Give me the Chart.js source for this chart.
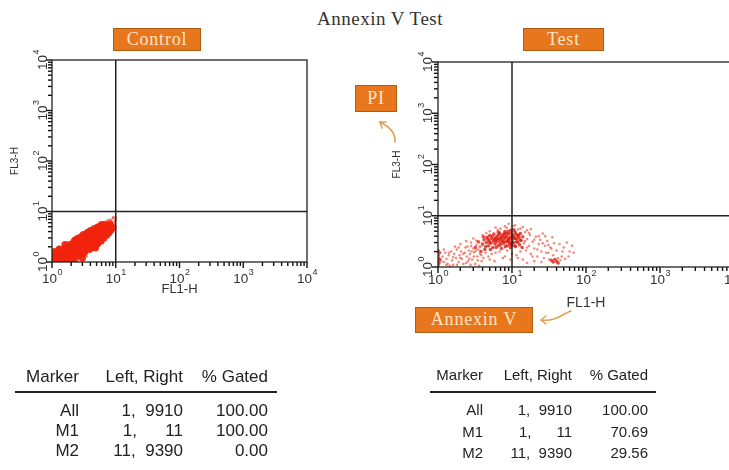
<!DOCTYPE html>
<html>
<head>
<meta charset="utf-8">
<script src="https://cdn.jsdelivr.net/npm/chart.js@4"></script>
<style>
  html, body { margin: 0; padding: 0; background: #fff; }
  #page { position: relative; width: 729px; height: 470px; overflow: hidden; background: #fff; }
  canvas { position: absolute; }
  .title { position: absolute; left: 0; width: 760px; top: 8px; text-align: center;
           font: 19px "Liberation Serif", "Times New Roman", serif; letter-spacing: 0.5px; color: #333; }
  .tag { position: absolute; box-sizing: border-box; background: #e8761c; border: 1.5px solid #b25c12;
         color: #fde6c4; font: 18px "Liberation Serif", "Times New Roman", serif; letter-spacing: 0.8px;
         text-align: center; }
  .cell { position: absolute; width: 140px; height: 20px; line-height: 20px; text-align: right;
          white-space: pre; color: #222; font-family: "Liberation Sans", Arial, sans-serif; }
  .rule { position: absolute; height: 2px; background: #222; }
  .arrows { position: absolute; left: 0; top: 0; pointer-events: none; }
</style>
</head>
<body>
<div id="page">
  <div class="title">Annexin V Test</div>
  <canvas id="controlPlot" width="330" height="270" style="left:0px; top:40px;"></canvas>
  <canvas id="testPlot" width="420" height="280" style="left:340px; top:40px;"></canvas>

  <div class="tag" style="left:113px; top:28px; width:88px; height:23px; line-height:20px;">Control</div>
  <div class="tag" style="left:523px; top:28px; width:81px; height:23px; line-height:20px;">Test</div>
  <div class="tag" style="left:355px; top:85px; width:42px; height:27px; line-height:24px;">PI</div>
  <div class="tag" style="left:415px; top:307px; width:118px; height:26px; line-height:23px;">Annexin V</div>

  <svg class="arrows" width="729" height="470">
    <g fill="none" stroke="#e0a050" stroke-width="1.6" stroke-linecap="round">
      <path d="M395,142 C396,132 388,126 380,122" />
      <path d="M380,122 L386,122 M380,122 L382,128" />
      <path d="M571,311 C562,314 556,322 541,320" />
      <path d="M541,320 L546,316 M541,320 L546,324" />
    </g>
  </svg>
</div>

<script>
// axis decades and tick labels (exponents of 10)
const decades = [1, 10, 100, 1000, 10000];
const decadeLabels = ["0", "1", "2", "3", "4"];
// minor tick positions inside one decade
const minorSteps = [2, 3, 4, 5, 6, 7, 8, 9];

// gate position (FL1-H, FL3-H)
const gateX = 10;
const gateY = 10;

// control sample, dense core of the cell population [FL1-H, FL3-H]
const controlCore = [
  [1.0,1.0],[1.05,1.15],[1.1,1.02],[1.0,1.3],[1.2,1.1],[1.15,1.35],[1.3,1.05],[1.3,1.3],
  [1.25,1.55],[1.4,1.2],[1.45,1.45],[1.5,1.05],[1.55,1.7],[1.6,1.3],[1.7,1.5],[1.75,1.15],
  [1.8,1.85],[1.9,1.35],[1.95,1.6],[2.0,2.0],[2.1,1.25],[2.15,1.75],[2.25,1.45],[2.3,2.1],
  [2.4,1.65],[2.5,1.3],[2.55,1.95],[2.6,2.4],[2.7,1.55],[2.8,2.2],[2.9,1.8],[2.95,2.6],
  [3.05,1.45],[3.1,2.05],[3.2,2.8],[3.3,1.75],[3.4,2.35],[3.5,3.0],[3.6,1.95],[3.7,2.6],
  [3.8,2.2],[3.9,3.2],[4.0,1.9],[4.1,2.85],[4.25,2.4],[4.35,3.4],[4.5,2.2],[4.6,3.0],
  [4.75,2.6],[4.85,3.7],[5.0,2.45],[5.1,3.2],[5.25,4.0],[5.4,2.8],[5.55,3.5],[5.7,4.3],
  [5.85,3.0],[6.0,3.8],[6.2,3.3],[6.35,4.6],[6.5,4.0],[6.7,3.5],[6.9,4.9],[7.1,4.3],
  [7.4,5.2],[7.7,4.6],[8.0,5.6],[8.4,5.0],[5.8,5.2],[4.4,3.9],[3.4,3.5],[2.3,2.7],
  [1.6,2.2],[1.3,1.8],[1.1,1.6],[1.0,1.5],[1.0,1.1],[1.2,1.0],[1.45,1.0],[1.85,1.05],
  [2.2,1.1],[4.8,1.9],[6.6,5.5],[3.0,1.2],
  [1.1,1.2],[1.35,1.6],[1.6,1.9],[1.9,2.2],[2.2,2.5],[2.5,2.9],[2.8,3.1],[3.1,3.5],
  [3.6,3.8],[4.0,4.2],[4.6,4.6],[5.2,4.9],[6.0,5.5],[2.0,1.2],[2.6,1.4],[3.3,1.6],
  [3.9,1.8],[4.5,2.0],[5.2,2.3],[5.9,2.6],[6.5,3.0],[7.2,3.4],[7.8,3.8],[8.4,4.3],
  [9.0,4.8],[7.5,4.0],[6.0,4.3],[5.0,3.7],[4.2,3.1],[3.4,2.6],[2.6,2.1],[2.0,1.7],[1.5,1.4]
];

// control sample, sparse events at the edge of the population
const controlSparse = [
  [8.8,6.1],[9.3,5.7],[9.8,6.6],[9.9,7.2],[7.6,6.0],[9.0,7.4],[8.3,4.1],[8.5,6.8],
  [9.2,7.8],[7.2,6.6],[10.0,7.6],[6.0,5.8],[9.6,6.2],[3.5,1.3],[4.0,1.6],[5.5,2.2],
  [2.5,1.05],[1.3,2.0],[7.0,3.9],[6.2,2.8],[8.9,5.2],[7.9,6.9]
];

// test sample, dense events around the gate [FL1-H, FL3-H]
const testCore = [
  [1.0,1.1],[1.0,1.3],[1.02,1.5],[1.0,1.7],[1.05,1.9],[1.0,2.1],[1.03,1.2],[1.0,1.0],[1.06,1.4],
  [4.0,2.8],[4.2,3.4],[4.3,2.2],[4.5,3.0],[4.6,3.8],[4.8,2.6],[4.9,3.3],[5.0,4.1],[5.2,2.9],
  [5.3,3.6],[5.5,2.4],[5.6,3.2],[5.7,4.4],[5.9,2.8],[6.0,3.7],[6.2,3.1],[6.3,4.0],[6.5,2.6],
  [6.6,3.4],[6.8,4.6],[6.9,3.0],[7.1,3.8],[7.2,2.3],[7.4,3.3],[7.5,4.2],[7.7,2.9],[7.9,3.6],
  [8.0,4.9],[8.2,3.1],[8.4,4.0],[8.6,2.6],[8.8,3.5],[9.0,4.4],[9.2,3.0],[9.4,3.8],[9.6,5.2],
  [9.8,2.7],[10.0,3.4],[10.3,4.2],[10.5,3.0],[10.7,3.7],[11.0,4.8],[11.2,2.5],[11.5,3.5],
  [11.8,4.1],[12.0,3.0],[12.4,3.8],[12.7,2.7],[13.0,4.5],[13.3,3.3],[13.7,2.4],[14.0,3.9],
  [34,1.35],[36,1.25],[38,1.4],[40,1.3],[42,1.2],
  [3.2,2.4],[3.5,3.1],[3.8,2.0],[4.1,3.9],[4.4,2.5],[4.7,3.5],[5.1,2.2],[5.4,4.0],[5.8,3.5],
  [6.1,2.4],[6.4,3.6],[6.7,4.3],[7.0,2.7],[7.3,3.9],[7.6,3.1],[8.1,2.5],[8.3,4.5],[8.7,3.2],
  [9.1,3.6],[9.5,2.4],[9.7,4.6],[10.1,3.0],[10.4,3.9],[10.8,2.6],[11.3,4.4],[11.6,3.1],
  [12.2,4.2],[12.8,3.4],[5.0,3.0],[6.0,3.3],[7.0,3.5],[8.0,3.8],[9.0,3.3],[10.0,4.0],
  [11.0,3.6],[6.5,4.8],[8.8,4.9],[10.6,5.3],[7.8,4.4],[9.3,2.8]
];

// test sample, scattered events
const testOuter = [
  [1.15,1.6],[1.2,1.25],[1.25,1.9],[1.3,1.45],[1.35,1.15],[1.4,1.7],[1.5,2.0],[1.55,1.35],
  [1.6,1.1],[1.65,1.8],[1.75,1.5],[1.8,2.2],[1.9,1.25],[1.95,1.7],[2.05,2.0],[2.1,1.45],
  [2.2,1.15],[2.3,1.9],[2.35,2.4],[2.45,1.6],[2.55,1.3],[2.6,2.1],[2.7,1.8],[2.8,2.6],
  [2.9,1.4],[3.0,2.3],[3.1,1.95],[3.2,1.15],[3.3,2.7],[3.4,1.6],[3.5,2.2],[3.6,3.0],
  [3.7,1.8],[3.8,2.5],[3.9,1.3],[2.4,3.2],[2.0,2.8],[1.7,2.5],[3.0,3.6],[1.45,1.05],
  [2.75,1.1],[3.6,1.05],[6.4,5.3],[8.5,5.8],[10.2,6.3],[9.0,7.0],[7.0,5.6],[12.0,5.4],
  [5.0,5.0],[4.5,4.6],[14.5,2.9],[15,4.8],[15.5,2.1],[16,3.5],[17,2.6],[17.5,4.2],
  [18,1.8],[19,3.1],[20,2.3],[21,3.9],[22,1.6],[23,2.8],[24,3.4],[25,2.0],[26,4.5],
  [27,1.5],[28,2.6],[30,3.2],[31,1.9],[32,1.4],[33,2.4],[35,3.8],[36,1.7],[38,1.3],
  [40,2.1],[42,1.5],[44,2.8],[45,1.35],[47,1.6],[50,2.4],[52,1.45],[55,3.0],[60,2.0],
  [65,2.6],[18,5.5],[14,6.0],[16,1.2],[20,1.3],[25,1.25],[12,1.5],[10,1.8],[8,1.6],
  [6,1.9],[5,1.4],[13,2.0],
  [1.1,1.3],[1.2,2.2],[1.3,1.1],[1.4,1.9],[1.6,1.55],[1.8,1.1],[1.9,2.4],[2.0,1.5],
  [2.2,1.8],[2.4,1.2],[2.5,2.5],[2.65,1.45],[2.85,2.0],[3.05,1.6],[3.25,2.1],[3.45,1.35],
  [3.65,2.5],[3.85,1.7],[4.1,1.5],[4.4,1.9],[4.8,1.6],[5.3,1.8],[5.8,1.3],[6.8,2.0],
  [7.5,1.5],[8.6,2.1],[9.5,1.4],[11.5,1.7],[14,1.4],[16,2.4],[19,1.6],[22,2.2],[26,2.9],
  [29,1.9],[34,2.3],[37,2.9],[48,2.0],[58,1.6],[68,1.9],[15,3.2],[17,4.6],[20,3.4],
  [23,4.0],[11,6.5],[8,6.2],[6,5.9],[13,5.6],[16,5.2],[4.0,4.2],[3.3,3.3],[2.8,3.0],
  [28,4.0],[31,2.7]
];

// marker tables
const tableHeader = ["Marker", "Left, Right", "% Gated"];
const markers = ["All", "M1", "M2"];
const markerRanges = ["1,  9910", "1,      11", "11,  9390"];
const controlGated = ["100.00", "100.00", "0.00"];
const testGated = ["100.00", "70.69", "29.56"];

const labelFont = '"Liberation Sans", Arial, sans-serif';

// draws "10" with a raised exponent, centred on (cx, cy)
function drawPower(ctx, cx, cy, exp, rot) {
    ctx.save();
    ctx.translate(cx, cy);
    ctx.rotate(rot);
    ctx.textBaseline = "middle";
    ctx.textAlign = "left";
    ctx.font = "13.5px " + labelFont;
    const bw = ctx.measureText("10").width;
    ctx.font = "9px " + labelFont;
    const ew = ctx.measureText(exp).width;
    const x0 = -(bw + ew) / 2;
    ctx.font = "13.5px " + labelFont;
    ctx.fillText("10", x0, 1);
    ctx.font = "9px " + labelFont;
    ctx.fillText(exp, x0 + bw + 0.5, -5);
    ctx.restore();
}

// frame, tick marks, quadrant gate, decade labels and axis titles
const flowDecor = {
    id: "flowDecor",
    afterDraw(chart, args, opts) {
        const { ctx, chartArea: a, scales: { x, y } } = chart;
        ctx.save();

        // log tick marks: a long one at each decade, short ones between
        ctx.fillStyle = "#111";
        decades.forEach((d, i) => {
            const steps = i < decades.length - 1 ? [1].concat(minorSteps) : [1];
            steps.forEach(s => {
                const len = s === 1 ? 6 : 4;
                const px = x.getPixelForValue(d * s);
                const py = y.getPixelForValue(d * s);
                ctx.fillRect(px - 0.7, a.bottom, 1.4, len);
                ctx.fillRect(a.left - len, py - 0.7, len, 1.4);
            });
        });

        ctx.strokeStyle = "#222";
        ctx.lineWidth = 1.3;
        ctx.strokeRect(a.left, a.top, a.right - a.left, a.bottom - a.top);

        ctx.lineWidth = 1.5;
        const gx = x.getPixelForValue(gateX);
        const gy = y.getPixelForValue(gateY);
        ctx.beginPath();
        ctx.moveTo(gx, a.top);
        ctx.lineTo(gx, a.bottom);
        ctx.moveTo(a.left, gy);
        ctx.lineTo(a.right, gy);
        ctx.stroke();

        ctx.fillStyle = "#333";
        decades.forEach((d, i) => {
            drawPower(ctx, x.getPixelForValue(d), a.bottom + opts.xLabelGap, decadeLabels[i], 0);
            drawPower(ctx, a.left - opts.yLabelGap, y.getPixelForValue(d), decadeLabels[i], -Math.PI / 2);
        });

        ctx.textAlign = "center";
        ctx.textBaseline = "middle";
        ctx.font = opts.xTitleSize + "px " + labelFont;
        ctx.fillText("FL1-H", (a.left + a.right) / 2, a.bottom + opts.xTitleGap);
        ctx.save();
        ctx.translate(a.left - opts.yTitleGap, (a.top + a.bottom) / 2);
        ctx.rotate(-Math.PI / 2);
        ctx.font = opts.yTitleSize + "px " + labelFont;
        ctx.fillText("FL3-H", 0, 0);
        ctx.restore();
        ctx.restore();
    }
};

function logAxis(isX) {
    return {
        type: "logarithmic",
        min: 1,
        max: 10000,
        afterFit: s => { if (isX) s.height = 0; else s.width = 0; },
        ticks: { display: false },
        grid: { display: false },
        border: { display: false }
    };
}

function toPoints(list) {
    return list.map(p => ({ x: p[0], y: p[1] }));
}

function renderFlowPlot(canvasId, datasets, padding, decor) {
    new Chart(document.getElementById(canvasId), {
        type: "scatter",
        data: { datasets: datasets },
        options: {
            responsive: false,
            animation: false,
            devicePixelRatio: 1,
            layout: { padding: padding },
            scales: { x: logAxis(true), y: logAxis(false) },
            plugins: {
                legend: { display: false },
                tooltip: { enabled: false },
                flowDecor: decor
            }
        },
        plugins: [flowDecor]
    });
}

renderFlowPlot("controlPlot", [
    { data: toPoints(controlCore), backgroundColor: "rgba(240,36,12,0.95)", pointRadius: 3.6, pointBorderWidth: 0 },
    { data: toPoints(controlSparse), backgroundColor: "rgba(240,70,50,0.8)", pointRadius: 1.2, pointBorderWidth: 0 }
], { left: 52, right: 23, top: 20, bottom: 48 },
   { xLabelGap: 16, yLabelGap: 10, xTitleGap: 27, yTitleGap: 37, xTitleSize: 13, yTitleSize: 10 });

renderFlowPlot("testPlot", [
    { data: toPoints(testOuter), backgroundColor: "rgba(238,100,80,0.75)", pointRadius: 1.3, pointBorderWidth: 0 },
    { data: toPoints(testCore), backgroundColor: "rgba(222,30,18,0.8)", pointRadius: 1.8, pointBorderWidth: 0 }
], { left: 98, right: 26, top: 22, bottom: 53 },
   { xLabelGap: 12, yLabelGap: 11, xTitleGap: 36, yTitleGap: 41, xTitleSize: 14, yTitleSize: 10 });

// marker tables below the plots
function buildTable(cfg) {
    const page = document.getElementById("page");
    const rows = [tableHeader].concat(markers.map((m, i) => [m, markerRanges[i], cfg.gated[i]]));
    rows.forEach((row, r) => {
        row.forEach((txt, c) => {
            const d = document.createElement("div");
            d.className = "cell";
            d.textContent = txt;
            d.style.fontSize = cfg.size + "px";
            d.style.left = (cfg.rights[c] - 140) + "px";
            d.style.top = (cfg.rowY[r] - 10) + "px";
            page.appendChild(d);
        });
    });
    const rule = document.createElement("div");
    rule.className = "rule";
    rule.style.left = cfg.rule[0] + "px";
    rule.style.width = (cfg.rule[1] - cfg.rule[0]) + "px";
    rule.style.top = (cfg.ruleY - 1) + "px";
    page.appendChild(rule);
}

buildTable({ gated: controlGated, size: 17, rights: [79, 183, 268], rowY: [377, 411, 431, 451], rule: [15, 277], ruleY: 392 });
buildTable({ gated: testGated, size: 15, rights: [483, 572, 648], rowY: [375, 410, 432, 453], rule: [430, 656], ruleY: 392 });
</script>
</body>
</html>
